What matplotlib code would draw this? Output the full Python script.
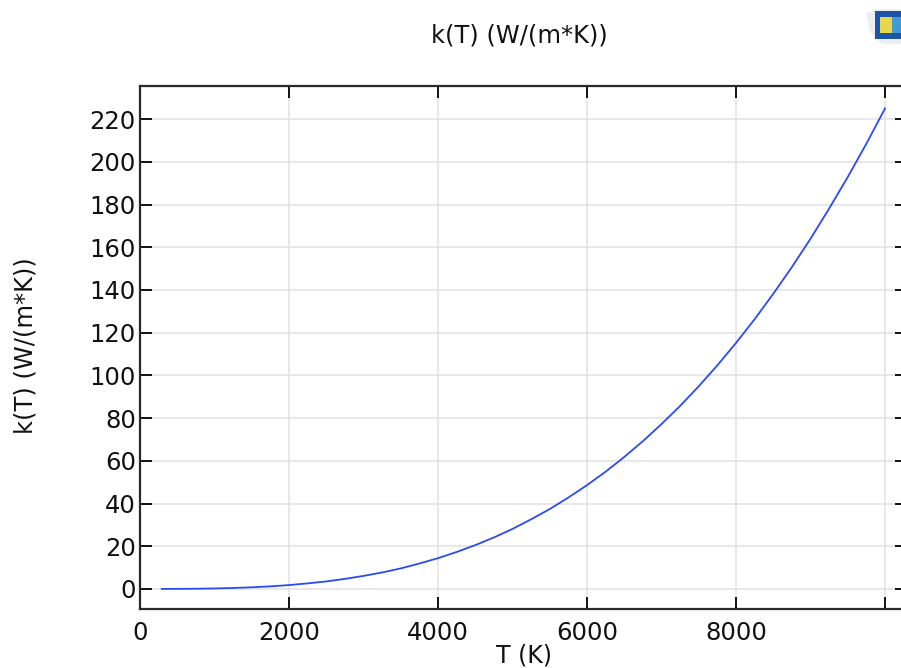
import matplotlib
matplotlib.use('Agg')
import matplotlib.pyplot as plt
from matplotlib.patches import Polygon, Rectangle

T = [293, 500, 750, 1000, 1250, 1500, 1750, 2000, 2250, 2500, 2750, 3000, 3250, 3500, 3750,
     4000, 4250, 4500, 4750, 5000, 5250, 5500, 5750, 6000, 6250, 6500, 6750, 7000, 7250,
     7500, 7750, 8000, 8250, 8500, 8750, 9000, 9250, 9500, 9750, 10000]
k = [0.0, 0.03, 0.1, 0.23, 0.44, 0.76, 1.2, 1.8, 2.6, 3.5, 4.7, 6.1, 7.7, 9.6, 11.9,
     14.4, 17.3, 20.5, 24.1, 28.1, 32.6, 37.4, 42.8, 48.6, 54.9, 61.8, 69.2, 77.2, 85.7,
     94.9, 104.7, 115.2, 126.3, 138.2, 150.7, 164.0, 178.1, 192.9, 208.5, 225.0]
xticks = [0, 2000, 4000, 6000, 8000, 10000]
xlabels = ['0', '2000', '4000', '6000', '8000', '']
yticks = list(range(0, 221, 20))

W, H = 901, 668
fig = plt.figure(figsize=(W / 100, H / 100), dpi=100)

# the screenshot cuts the plot off on the right, so the axes run past the figure
left, right, top, bottom = 140, 907, 86, 609
ax = fig.add_axes([left / W, 1 - bottom / H, (right - left) / W, (bottom - top) / H])

ax.plot(T, k, color='#2b4bf2', lw=1.3)
ax.set_xlim(0, 10295)
ax.set_ylim(-9.4, 235.5)
ax.set_xticks(xticks)
ax.set_yticks(yticks)
ax.set_xticklabels(xlabels)
ax.grid(True, color='#e2e2e2', lw=1.1)
ax.set_axisbelow(True)
ax.tick_params(direction='in', length=8.5, width=1.4, top=True, right=True,
               labelsize=17.5, colors='#111111')
ax.tick_params(axis='x', pad=8.5)
ax.tick_params(axis='y', pad=3)
for s in ax.spines.values():
    s.set_linewidth(1.6)
    s.set_color('#2a2a2a')

fig.text(519 / W, 1 - 35 / H, 'k(T) (W/(m*K))', ha='center', va='center',
         fontsize=17.4, color='#111111')
fig.text(524 / W, 1 - 655 / H, 'T (K)', ha='center', va='center',
         fontsize=17, color='#111111')
fig.text(26 / W, 1 - 346 / H, 'k(T) (W/(m*K))', ha='center', va='center',
         rotation=90, fontsize=17.4, color='#111111')


# application logo in the top right corner
def px(x, y):
    return (x / W, 1 - y / H)


fig.add_artist(Polygon([px(866, 13), px(878, 9), px(901, 9), px(901, 44), px(882, 44), px(870, 32)],
                       transform=fig.transFigure, fc='#eceef2', ec='none'))
fig.add_artist(Rectangle(px(875, 39), 26 / W, 28 / H, transform=fig.transFigure,
                         fc='#1c55a8', ec='none'))
fig.add_artist(Rectangle(px(880, 33), 12 / W, 16 / H, transform=fig.transFigure,
                         fc='#e6d84a', ec='none'))
fig.add_artist(Rectangle(px(892, 33), 9 / W, 16 / H, transform=fig.transFigure,
                         fc='#3f9ad6', ec='none'))

fig.savefig('out.png', dpi=100)
